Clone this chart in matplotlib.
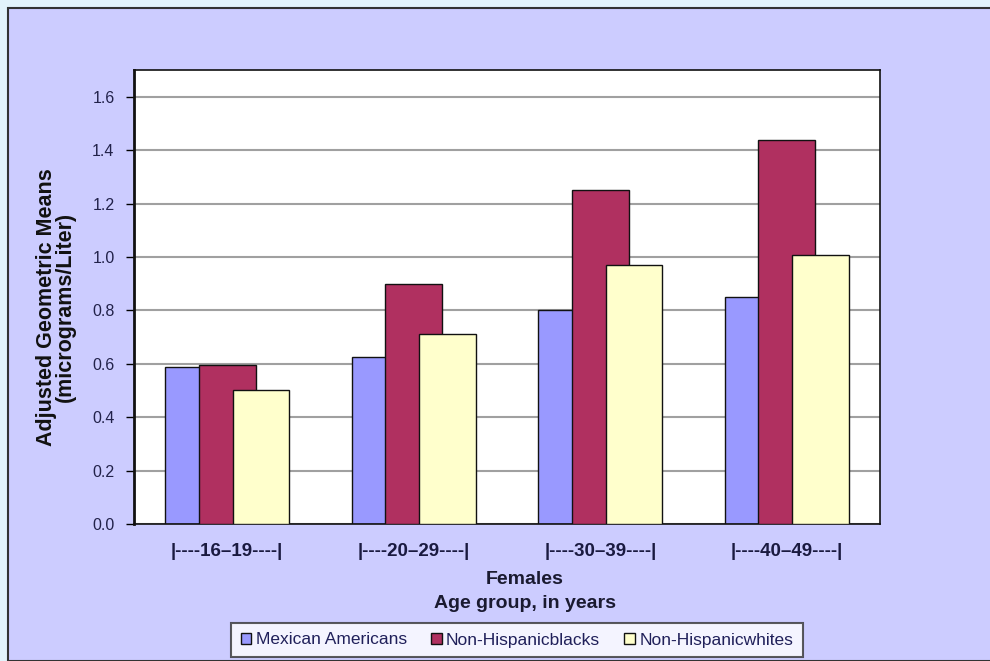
import matplotlib.pyplot as plt
from matplotlib.patches import Rectangle
import numpy as np

plt.rcParams['font.family'] = ['Liberation Sans', 'DejaVu Sans']

age_groups = ['|----16\u201319----|', '|----20\u201329----|', '|----30\u201339----|', '|----40\u201349----|']
mexican = [0.587, 0.624, 0.80, 0.849]
blacks = [0.597, 0.897, 1.252, 1.439]
whites = [0.50, 0.71, 0.968, 1.009]

series = ['Mexican Americans', 'Non-Hispanicblacks', 'Non-Hispanicwhites']
colors = ['#9999ff', '#b03060', '#ffffcc']

fig = plt.figure(figsize=(9.9, 6.61), dpi=100)
fig.patch.set_facecolor('#e2f3fb')
# lavender chart area with dark border on left/top
fig.patches.append(Rectangle((8 / 990, 0), 1.0, 1 - 8 / 661, transform=fig.transFigure,
                             facecolor='#ccccff', edgecolor='#333333', linewidth=1.5,
                             zorder=-10))

ax = fig.add_axes([134 / 990, 1 - 524 / 661, 746 / 990, 454 / 661])
ax.set_facecolor('white')

x = np.arange(len(age_groups))
offset = 0.181
width = 0.305
for i, (vals, lab, col) in enumerate(zip([mexican, blacks, whites], series, colors)):
    ax.bar(x + (i - 1) * offset, vals, width, color=col, edgecolor='#111111',
           linewidth=1.0, label=lab, zorder=2 + i)

ax.set_xlim(-0.5, 3.5)
ax.set_ylim(0, 1.7)
ax.set_yticks(np.arange(0, 1.61, 0.2))
ax.set_yticklabels(['%.1f' % v for v in np.arange(0, 1.61, 0.2)], fontsize=11.5, color='#22224a')
ax.set_xticks(x)
ax.set_xticklabels(age_groups, fontsize=13.5, fontweight='bold', color='#1a1a40')
ax.tick_params(axis='x', length=0, pad=14)
ax.tick_params(axis='y', length=6, width=1, direction='out', pad=8)
ax.yaxis.grid(True, color='#a0a0a0', linewidth=1.5, zorder=0)
ax.set_axisbelow(True)
for s in ax.spines.values():
    s.set_color('#111111')
    s.set_linewidth(1.2)
ax.spines['left'].set_linewidth(2)

fig.text(56 / 990, 1 - 307 / 661, 'Adjusted Geometric Means\n(micrograms/Liter)',
         rotation=90, ha='center', va='center', fontsize=15.5, fontweight='bold',
         color='#111111', linespacing=0.85)
fig.text(525 / 990, 1 - 579 / 661, 'Females', ha='center', va='center',
         fontsize=14, fontweight='bold', color='#1a1a30')
fig.text(525 / 990, 1 - 603 / 661, 'Age group, in years', ha='center', va='center',
         fontsize=14, fontweight='bold', color='#1a1a30')

leg = fig.legend(loc='center', bbox_to_anchor=(517 / 990, 1 - 640 / 661), ncol=3,
                 fontsize=12.5, frameon=True, fancybox=False, edgecolor='#333333',
                 handlelength=0.6, handleheight=0.6, handletextpad=0.25,
                 columnspacing=1.4, borderpad=0.55)
leg.get_frame().set_linewidth(1.5)
for t in leg.get_texts():
    t.set_color('#20205a')

fig.savefig('out.png', dpi=100, facecolor=fig.get_facecolor())
